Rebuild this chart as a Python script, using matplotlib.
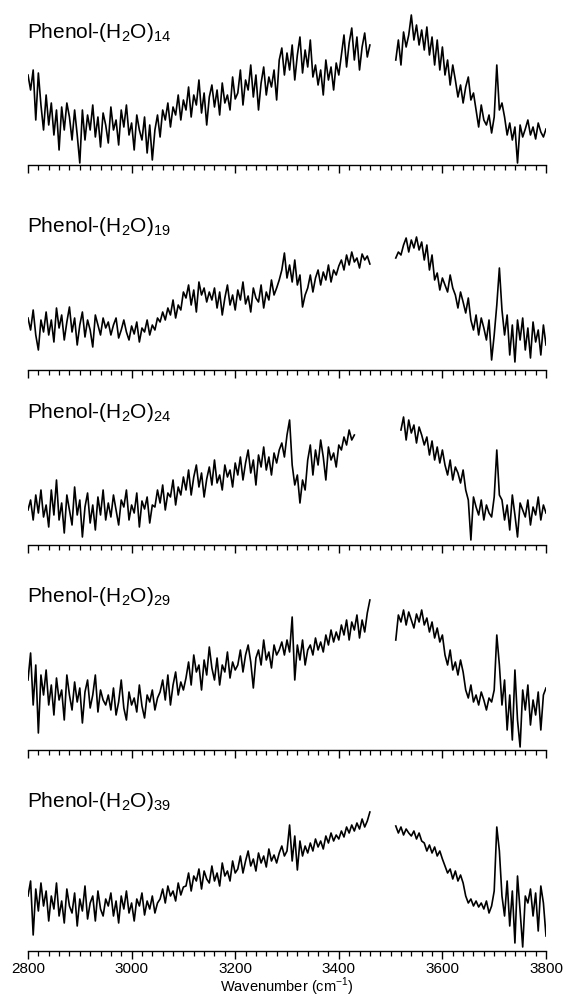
import matplotlib
matplotlib.use("Agg")
import matplotlib.pyplot as plt
import numpy as np

plt.rcParams["font.family"] = ["Liberation Sans", "DejaVu Sans"]
plt.rcParams["mathtext.fontset"] = "custom"
plt.rcParams["mathtext.rm"] = "Liberation Sans"

# cluster sizes and wavenumber grid (cm-1), signal in arbitrary units
CLUSTERS = ["14", "19", "24", "29", "39"]
STEP = 5
LEFT_START = 2800
LEFT_END = [3460, 3460, 3430, 3460, 3460]
RIGHT_START = [3510, 3510, 3520, 3510, 3510]
RIGHT_END = 3800

P14_LEFT = [90, 75, 95, 45, 92, 60, 35,
            70, 40, 62, 30, 55, 15, 58, 35, 62, 48, 25, 55, 30,
            2,
            55, 25, 50, 35, 60, 28, 48, 18, 52, 40, 22, 58, 35, 45, 20, 55, 38, 60, 30, 42,
            15, 50, 35, 25, 48, 12, 40, 5,
            35, 50, 28, 55, 45, 62, 38, 58, 50, 70, 45, 65,
            55, 78, 48, 70, 60, 85, 52, 72, 40, 68, 80, 58, 75, 50, 82, 62, 70, 55, 88, 66,
            72, 95, 60, 85, 75, 100, 68, 90, 55, 82, 98, 70, 88, 78, 95, 65,
            105, 117, 90, 112,
            95, 120, 85, 110, 128, 92, 115, 98, 125, 88,
            100, 80, 95, 70, 105, 85, 98, 75, 102, 90,
            110, 130, 98, 122, 137, 105, 128, 95, 118, 132, 108, 120]
P14_RIGHT = [105, 125, 100, 133, 118,
             130, 150, 125, 140, 120, 135,
             115, 138, 110, 128,
             100, 125, 95, 118,
             90, 105, 80, 100,
             85, 68, 80, 62, 78, 88, 65, 72,
             55, 38, 60, 45,
             40, 50, 32, 48,
             100, 55, 62, 48,
             30, 42, 25, 38, 2, 40, 28, 36, 45, 30, 38, 26, 42, 33, 28, 36]

P19_LEFT = [52, 40, 60, 35, 20, 50, 38,
            58, 35, 50, 28, 62, 42, 55, 30, 48, 63, 38, 52, 25, 45, 58, 33, 50, 40, 23, 55,
            45, 35, 52, 42,
            48, 35, 45, 52, 32, 40, 50, 38, 30, 44, 36, 48, 28, 42, 38, 50, 35, 45, 40, 52,
            48, 58, 50, 62, 55, 70, 52, 65, 60, 78,
            72, 85, 65, 80, 58, 88, 75, 82, 68, 78,
            70, 82, 62, 78, 55, 72, 85, 65, 75, 60, 80, 70, 88, 66, 74, 58, 82, 72, 68, 85,
            62, 78, 70, 90, 75, 82,
            90, 100, 117, 92,
            105, 88, 110, 85, 95,
            63, 75,
            82, 95, 78, 92, 100, 85, 98, 90, 105, 88, 100, 95, 104,
            110, 100, 115, 105, 118, 108, 112, 102, 116, 110, 114, 106]
P19_RIGHT = [112, 118, 115,
             125, 132, 118, 130, 122, 133, 120, 128,
             110, 125, 100, 115,
             90, 97, 80, 92, 85, 78, 95, 82,
             75, 62, 78, 68, 57, 72,
             50, 40, 55, 35, 52, 42,
             30, 50, 10, 35,
             65, 102, 60,
             35, 55, 15, 45, 8, 50, 30, 52, 20, 42, 12, 48, 28, 40, 15, 45, 25]

P24_LEFT = [35, 45, 25, 50, 32, 55, 28,
            40, 18, 55, 30, 65, 25, 42, 12, 50, 35, 20, 58, 30, 45, 8, 38, 52, 22, 40, 15,
            48, 30, 55, 25,
            42, 28, 50, 35, 20, 45, 38, 55, 25, 40, 32, 52, 18, 44, 36, 48, 22, 40,
            38, 55, 42, 60, 35, 52, 48, 65, 40, 58, 50, 68,
            55, 75, 50, 68, 80, 58, 72, 48, 66, 78, 60, 85, 62, 70, 55, 80, 68, 75, 58, 82,
            70, 88, 65, 82, 95, 72, 85, 60, 90, 78, 98, 75, 88, 70, 92, 82,
            95, 102, 88, 110,
            125,
            80, 60, 70, 42, 65, 55,
            85, 100, 70, 95, 80, 105, 88, 65, 98, 85, 92, 78, 100,
            95, 108, 100, 115, 105, 110]
P24_RIGHT = [115, 128, 105, 125, 112, 120, 102, 118, 110,
             100, 108, 90, 104, 85, 98, 82, 95,
             80, 70, 85, 65, 78, 72, 62, 75,
             55, 45, 5, 48,
             38, 30, 45, 25, 40, 32, 28, 48,
             95, 50,
             45, 25, 40, 15, 50, 30, 8, 42, 35, 28, 45, 20, 38, 30, 48, 25, 40, 32]

P29_LEFT = [70, 97, 45, 85, 17, 75, 55,
            80, 45, 65, 35, 72, 50, 60, 30, 75, 55, 40, 68, 48, 62, 27, 58, 70, 42, 55, 75,
            38, 60, 50, 45,
            55, 40, 62, 35, 48, 70, 42, 30, 58, 45, 52, 38, 65, 44, 32, 55, 48, 60, 40, 52,
            58, 70, 50, 75, 45, 65, 78, 55, 68, 60,
            72, 88, 65, 95, 78, 85, 60, 90, 75, 103, 82, 70, 92, 65, 85, 78, 98, 72, 88, 80,
            85, 100, 78, 95, 105, 88, 62, 92, 100, 85, 110, 90, 98, 82, 105, 95,
            100, 108, 95, 110,
            98, 133, 70, 105,
            90, 110, 85, 100,
            105, 95, 112, 100, 108, 98,
            115, 105, 120, 108, 118, 110,
            125, 115, 130, 110, 128, 120, 135, 112, 130, 118, 137, 150]
P29_RIGHT = [110, 135, 128, 140, 125, 138, 130, 122, 136, 128, 140,
             125, 132, 118, 128, 112, 122, 108, 115,
             95, 85, 100, 80, 88, 75, 90, 78,
             60, 52, 65, 48, 55, 45, 58, 50, 40, 52,
             48, 60,
             115, 85,
             45, 70, 20, 55, 10, 80, 30, 3, 60, 40, 65, 25, 50, 35, 58, 20, 55, 62]

P39_LEFT = [55, 70, 16, 62, 40, 68, 45,
            60, 30, 55, 42, 68, 35, 50, 28, 62, 45, 38, 58, 25, 52, 40, 65, 32, 48, 55, 30,
            60, 42, 35, 52,
            45, 58, 35, 50, 28, 55, 42, 60, 38, 48, 30, 52, 45, 58, 36, 50, 42, 55, 38, 48,
            52, 62, 48, 65, 55, 60, 50, 68, 56, 64,
            65, 78, 60, 75, 70, 82, 62, 80, 72, 68, 85, 70, 78, 65, 88, 75, 80, 70, 90, 78,
            82, 95, 78, 90, 100, 85, 92, 80, 98, 88, 95, 84, 102, 90, 96, 88,
            98, 105, 95, 100,
            126, 90, 115, 81,
            110, 95, 105, 98,
            108, 100, 112, 104, 110, 102,
            115, 108, 118, 110, 116, 112,
            120, 114, 124, 118, 126, 120, 128, 122, 132, 124, 130, 139]
P39_RIGHT = [125, 118, 124, 116, 122, 118, 115, 120, 112, 118, 110,
             108, 100, 106, 98, 104, 95, 100, 92,
             85, 78, 82, 72, 80, 70, 76, 68,
             55, 48, 52, 45, 50, 44, 48, 42, 50, 38,
             45, 60,
             124, 100,
             55, 35, 70, 25, 60, 8, 75, 40, 4, 55, 48, 62, 35, 58, 20, 65, 48, 15]

LEFTS = [P14_LEFT, P19_LEFT, P24_LEFT, P29_LEFT, P39_LEFT]
RIGHTS = [P14_RIGHT, P19_RIGHT, P24_RIGHT, P29_RIGHT, P39_RIGHT]

W, H = 566, 997
fig = plt.figure(figsize=(W / 100, H / 100), dpi=100)

x0, x1 = 28, 546
baselines = [165, 370, 545, 750, 951]
label_y = [38, 232, 418, 602, 807]
panel_h = 160

for i, n in enumerate(CLUSTERS):
    b = baselines[i]
    ax = fig.add_axes([x0 / W, 1 - b / H, (x1 - x0) / W, panel_h / H])
    xl = np.arange(LEFT_START, LEFT_END[i] + 1, STEP)
    xr = np.arange(RIGHT_START[i], RIGHT_END + 1, STEP)
    assert len(xl) == len(LEFTS[i]) and len(xr) == len(RIGHTS[i])
    ax.plot(xl, LEFTS[i], color="black", lw=1.2)
    ax.plot(xr, RIGHTS[i], color="black", lw=1.2)
    ax.set_xlim(2800, 3800)
    ax.set_ylim(0, panel_h)
    for s in ["top", "left", "right"]:
        ax.spines[s].set_visible(False)
    ax.spines["bottom"].set_linewidth(1.0)
    ax.set_yticks([])
    ax.set_xticks(np.arange(2800, 3801, 200))
    ax.set_xticks(np.arange(2800, 3801, 20), minor=True)
    ax.tick_params(axis="x", which="major", direction="out", length=6, width=1.0,
                   labelsize=11, pad=2)
    ax.tick_params(axis="x", which="minor", direction="out", length=3.5, width=0.9)
    if i < len(CLUSTERS) - 1:
        ax.tick_params(axis="x", labelbottom=False)
    else:
        ax.set_xlabel(r"Wavenumber (cm$^{\mathregular{-1}}$)", fontsize=10.5, labelpad=0)
    fig.text(27 / W, 1 - label_y[i] / H,
             r"Phenol-(H$_{\mathregular{2}}$O)$_{\mathregular{%s}}$" % n,
             fontsize=15, ha="left", va="baseline")

fig.savefig("out.png", dpi=100)
